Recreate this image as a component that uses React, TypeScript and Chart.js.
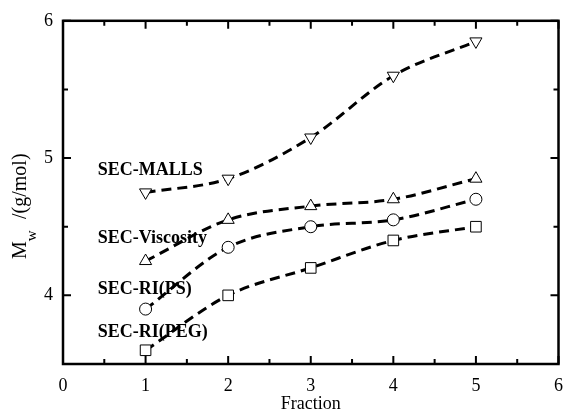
import React, { useEffect, useRef } from 'react';
import { Chart, registerables } from 'chart.js';

Chart.register(...registerables);

const fractions = [1, 2, 3, 4, 5];
const mallsValues = [4.75, 4.85, 5.15, 5.6, 5.85];
const viscosityValues = [4.25, 4.55, 4.65, 4.7, 4.85];
const riPsValues = [3.9, 4.35, 4.5, 4.55, 4.7];
const riPegValues = [3.6, 4.0, 4.2, 4.4, 4.5];

const seriesNames = ['SEC-MALLS', 'SEC-Viscosity', 'SEC-RI(PS)', 'SEC-RI(PEG)'];
const seriesNameX = [0.42, 0.42, 0.42, 0.42];
const seriesNameY = [4.88, 4.38, 4.01, 3.70];

const xMin = 0;
const xMax = 6;
const yMin = 3.5;
const yMax = 6;
const tickStep = 0.5;

const FONT = "'Liberation Serif', 'Times New Roman', serif";

const framePlugin = {
  id: 'frameTicks',
  beforeDatasetsDraw(chart: any) {
    const { ctx, scales } = chart;
    ctx.save();
    ctx.fillStyle = '#000';
    ctx.font = `bold 18px ${FONT}`;
    ctx.textAlign = 'left';
    ctx.textBaseline = 'alphabetic';
    seriesNames.forEach((name, i) => {
      ctx.fillText(name, scales.x.getPixelForValue(seriesNameX[i]), scales.y.getPixelForValue(seriesNameY[i]));
    });
    ctx.restore();
  },
  afterDraw(chart: any) {
    const { ctx, chartArea, scales } = chart;
    const { left, right, top, bottom } = chartArea;
    ctx.save();
    ctx.strokeStyle = '#000';
    ctx.lineWidth = 2.5;
    ctx.strokeRect(left, top, right - left, bottom - top);
    ctx.lineWidth = 2;
    scales.x.ticks.forEach((t: any) => {
      const px = scales.x.getPixelForValue(t.value);
      const len = Number.isInteger(t.value) ? 8 : 5;
      ctx.beginPath();
      ctx.moveTo(px, bottom);
      ctx.lineTo(px, bottom - len);
      ctx.moveTo(px, top);
      ctx.lineTo(px, top + len);
      ctx.stroke();
    });
    scales.y.ticks.forEach((t: any) => {
      const py = scales.y.getPixelForValue(t.value);
      const len = Number.isInteger(t.value) ? 8 : 5;
      ctx.beginPath();
      ctx.moveTo(left, py);
      ctx.lineTo(left + len, py);
      ctx.moveTo(right, py);
      ctx.lineTo(right - len, py);
      ctx.stroke();
    });
    // y-axis title with subscript
    ctx.fillStyle = '#000';
    ctx.translate(26, 259);
    ctx.rotate(-Math.PI / 2);
    ctx.textAlign = 'left';
    ctx.textBaseline = 'alphabetic';
    ctx.font = `20px ${FONT}`;
    ctx.fillText('M', 0, 0);
    const mW = ctx.measureText('M').width;
    ctx.font = `15px ${FONT}`;
    ctx.fillText('w', mW, 10);
    ctx.font = `20px ${FONT}`;
    ctx.fillText('/(g/mol)', 40, 0);
    ctx.restore();
  },
};

function makeSeries(values: number[], style: string, rotation: number, radius: number) {
  return {
    data: fractions.map((f, i) => ({ x: f, y: values[i] })),
    borderColor: '#000',
    borderWidth: 3,
    borderDash: [10, 6],
    cubicInterpolationMode: 'monotone' as const,
    pointStyle: style,
    pointRotation: rotation,
    pointRadius: radius,
    pointBorderWidth: 1,
    pointBorderColor: '#000',
    pointBackgroundColor: '#fff',
    fill: false,
  };
}

export default function App() {
  const canvasRef = useRef<HTMLCanvasElement | null>(null);

  useEffect(() => {
    document.body.style.margin = '0';
    const canvas = canvasRef.current;
    if (!canvas) return;
    const chart = new Chart(canvas, {
      type: 'line',
      data: {
        datasets: [
          makeSeries(mallsValues, 'triangle', 180, 7),
          makeSeries(viscosityValues, 'triangle', 0, 7),
          makeSeries(riPsValues, 'circle', 0, 6),
          makeSeries(riPegValues, 'rect', 0, 7.5),
        ] as any,
      },
      options: {
        responsive: false,
        animation: false,
        devicePixelRatio: 1,
        layout: { padding: { top: 18, right: 6, left: 0, bottom: 0 } },
        plugins: { legend: { display: false }, tooltip: { enabled: false } },
        scales: {
          x: {
            type: 'linear',
            min: xMin,
            max: xMax,
            ticks: {
              stepSize: tickStep,
              color: '#000',
              font: { family: FONT, size: 18 },
              padding: 11,
              maxRotation: 0,
              autoSkip: false,
              callback: (v: any) => (Number.isInteger(v) ? String(v) : ''),
            },
            grid: { display: false, drawTicks: false },
            border: { display: false },
            title: {
              display: true,
              text: 'Fraction',
              color: '#000',
              font: { family: FONT, size: 18 },
              padding: { top: 0, bottom: 0 },
            },
            afterFit: (s: any) => { s.height = 51; },
          },
          y: {
            type: 'linear',
            min: yMin,
            max: yMax,
            ticks: {
              stepSize: tickStep,
              color: '#000',
              font: { family: FONT, size: 18 },
              padding: 10,
              autoSkip: false,
              callback: (v: any) => (Number.isInteger(v) ? String(v) : ''),
            },
            grid: { display: false, drawTicks: false },
            border: { display: false },
            afterFit: (s: any) => { s.width = 63; },
          },
        },
      },
      plugins: [framePlugin],
    });
    return () => chart.destroy();
  }, []);

  return (
    <div style={{ width: 574, height: 415, background: '#fff' }}>
      <canvas ref={canvasRef} width={574} height={415} />
    </div>
  );
}
